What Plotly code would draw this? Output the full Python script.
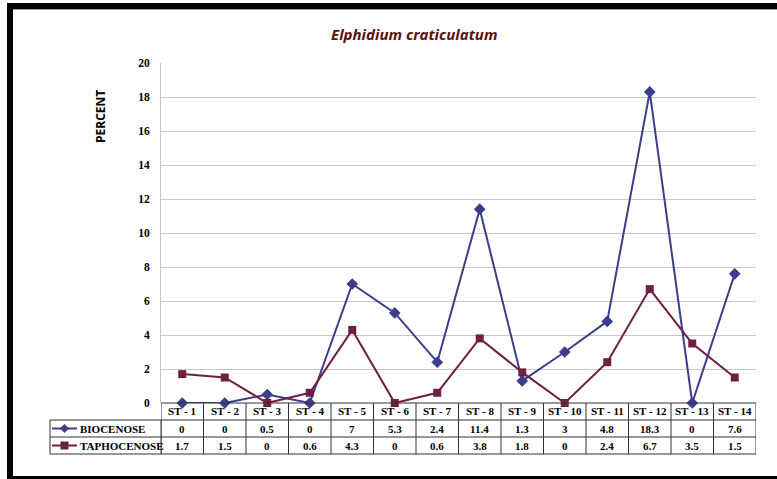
import plotly.graph_objects as go

categories = ["ST - 1", "ST - 2", "ST - 3", "ST - 4", "ST - 5", "ST - 6", "ST - 7",
              "ST - 8", "ST - 9", "ST - 10", "ST - 11", "ST - 12", "ST - 13", "ST - 14"]
biocenose = [0, 0, 0.5, 0, 7, 5.3, 2.4, 11.4, 1.3, 3, 4.8, 18.3, 0, 7.6]
taphocenose = [1.7, 1.5, 0, 0.6, 4.3, 0, 0.6, 3.8, 1.8, 0, 2.4, 6.7, 3.5, 1.5]
series_names = ["BIOCENOSE", "TAPHOCENOSE"]
y_ticks = [0, 2, 4, 6, 8, 10, 12, 14, 16, 18, 20]

W, H = 777, 479
L, R, T, B = 161, 21, 63, 76
PW, PH = W - L - R, H - T - B

BLUE = "#3D3D8C"
MAROON = "#6E1F42"
SERIF = "Liberation Serif"


def px(x):
    return (x - L) / PW


def py(y):
    return (H - B - y) / PH


fig = go.Figure()
fig.add_trace(go.Scatter(x=categories, y=biocenose, mode="lines+markers", name=series_names[0],
                         line=dict(color=BLUE, width=2),
                         marker=dict(symbol="diamond", size=9, color=BLUE),
                         cliponaxis=False))
fig.add_trace(go.Scatter(x=categories, y=taphocenose, mode="lines+markers", name=series_names[1],
                         line=dict(color=MAROON, width=2),
                         marker=dict(symbol="square", size=8, color=MAROON),
                         cliponaxis=False))

shapes = []
annotations = []
row_h = 17 / PH
n = len(categories)
tline = dict(color="#333333", width=1)
tfont = dict(family=SERIF, size=11, color="black")

# table horizontal lines across the data columns
for k in range(4):
    shapes.append(dict(type="line", xref="x", yref="paper", x0=-0.5, x1=n - 0.5,
                       y0=-k * row_h, y1=-k * row_h, line=tline))
# vertical lines between columns
for i in range(n + 1):
    shapes.append(dict(type="line", xref="x", yref="paper", x0=i - 0.5, x1=i - 0.5,
                       y0=0, y1=-3 * row_h, line=tline))
# label box
shapes.append(dict(type="rect", xref="paper", yref="paper", x0=px(50), x1=0,
                   y0=-3 * row_h, y1=-row_h, line=tline))
shapes.append(dict(type="line", xref="paper", yref="paper", x0=px(50), x1=0,
                   y0=-2 * row_h, y1=-2 * row_h, line=tline))

# category labels and values
for i, c in enumerate(categories):
    annotations.append(dict(x=c, xref="x", y=-0.5 * row_h, yref="paper", text=f"<b>{c}</b>",
                            showarrow=False, xanchor="center", yanchor="middle", font=tfont))
    for r, vals in enumerate([biocenose, taphocenose]):
        annotations.append(dict(x=c, xref="x", y=-(1.5 + r) * row_h, yref="paper",
                                text=f"<b>{vals[i]:g}</b>", showarrow=False,
                                xanchor="center", yanchor="middle", font=tfont))

# legend keys in table
for r, (name, col) in enumerate(zip(series_names, [BLUE, MAROON])):
    yc = -(1.5 + r) * row_h
    shapes.append(dict(type="line", xref="paper", yref="paper", x0=px(52), x1=px(77),
                       y0=yc, y1=yc, line=dict(color=col, width=2)))
    mx = px(64.5)
    if r == 0:
        d = 4.5
        shapes.append(dict(type="path", xref="paper", yref="paper",
                           path=f"M {px(64.5 - d)} {yc} L {mx} {yc + d / PH} L {px(64.5 + d)} {yc} L {mx} {yc - d / PH} Z",
                           fillcolor=col, line=dict(color=col, width=0)))
    else:
        d = 4
        shapes.append(dict(type="rect", xref="paper", yref="paper",
                           x0=px(64.5 - d), x1=px(64.5 + d), y0=yc - d / PH, y1=yc + d / PH,
                           fillcolor=col, line=dict(color=col, width=0)))
    annotations.append(dict(x=px(77.5), xref="paper", y=yc, yref="paper", text=f"<b>{name}</b>",
                            xanchor="left", yanchor="middle", showarrow=False,
                            font=dict(family=SERIF, size=11, color="black")))

# outer frame (black bars with grey inner lines)
shapes.append(dict(type="rect", xref="paper", yref="paper", x0=px(7), x1=px(13),
                   y0=py(3), y1=py(479), fillcolor="black", line=dict(width=0)))
shapes.append(dict(type="rect", xref="paper", yref="paper", x0=px(7), x1=px(777),
                   y0=py(3), y1=py(9), fillcolor="black", line=dict(width=0)))
shapes.append(dict(type="rect", xref="paper", yref="paper", x0=px(7), x1=px(777),
                   y0=py(476), y1=py(479), fillcolor="black", line=dict(width=0)))
shapes.append(dict(type="line", xref="paper", yref="paper", x0=px(13), x1=px(777),
                   y0=py(9.5), y1=py(9.5), line=dict(color="#999999", width=1)))

# title and y title
annotations.append(dict(x=px(414), xref="paper", y=py(34), yref="paper",
                        text="<i><b>Elphidium craticulatum</b></i>", showarrow=False,
                        xanchor="center", yanchor="middle",
                        font=dict(family="Open Sans", size=15, color="#5A1010")))
annotations.append(dict(x=px(100), xref="paper", y=py(117), yref="paper", text="<b>PERCENT</b>",
                        textangle=-90, showarrow=False, xanchor="center", yanchor="middle",
                        font=dict(family="Open Sans", size=12, color="black")))

fig.update_layout(
    width=W, height=H,
    margin=dict(l=L, r=R, t=T, b=B, pad=0),
    paper_bgcolor="white", plot_bgcolor="white",
    showlegend=False,
    shapes=shapes, annotations=annotations,
    xaxis=dict(type="category", range=[-0.5, n - 0.5], showticklabels=False, showgrid=False,
               zeroline=False, showline=False, ticks=""),
    yaxis=dict(range=[0, 20], tickvals=y_ticks, ticktext=[f"<b>{v}</b>" for v in y_ticks],
               showgrid=True, gridcolor="#C8C8C8", gridwidth=1,
               zeroline=False, showline=True, linecolor="#C8C8C8", linewidth=1,
               ticks="", ticklabelstandoff=8,
               tickfont=dict(family=SERIF, size=11.5, color="black")),
)

fig.write_html("out.html")
